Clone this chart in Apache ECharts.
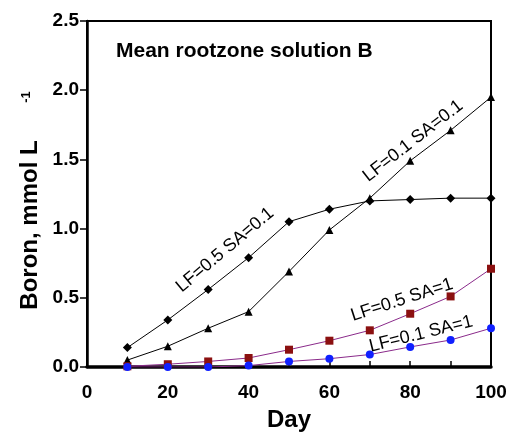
<!DOCTYPE html>
<html>
<head>
<meta charset="utf-8">
<script src="https://cdn.jsdelivr.net/npm/echarts@6/dist/echarts.min.js"></script>
<style>
html, body { margin: 0; padding: 0; background: #fff; }
#boron-line-1 { width: 507px; height: 432px; }
</style>
</head>
<body>
<div id="boron-line-1"></div>
<script>
var days = [10, 20, 30, 40, 50, 60, 70, 80, 90, 100];
var lf05sa01 = [0.14, 0.34, 0.56, 0.79, 1.05, 1.14, 1.20, 1.21, 1.22, 1.22];
var lf01sa01 = [0.05, 0.15, 0.28, 0.40, 0.69, 0.99, 1.22, 1.49, 1.71, 1.95];
var lf05sa1 = [0.005, 0.02, 0.04, 0.065, 0.125, 0.19, 0.265, 0.385, 0.51, 0.71];
var lf01sa1 = [0.0, 0.0, 0.0, 0.01, 0.04, 0.06, 0.09, 0.145, 0.195, 0.28];
var xTicks = [0, 20, 40, 60, 80, 100];
var yTicks = [0.0, 0.5, 1.0, 1.5, 2.0, 2.5];

//Boron in rootzone
(function(){
	var myChart = echarts.init(document.getElementById("boron-line-1"));
	var font = 'Liberation Sans, Arial, sans-serif';

	function pairs(ys) {
		return days.map(function(d, i){ return [d, ys[i]]; });
	}
	function label(text, x, y, deg) {
		return {
			type: 'text', x: x, y: y, rotation: deg * Math.PI / 180,
			style: { text: text, font: '18px ' + font, fill: '#000', align: 'center', verticalAlign: 'middle' }
		};
	}

	option = {
    animation: false,
    grid: {
        left: 87,
        right: 16,
        top: 21,
        bottom: 65,
        containLabel: false,
        outerBoundsMode: 'none',
        show: true,
        borderColor: '#000',
        borderWidth: 2
    },
    xAxis: {
        type: 'value',
        min: 0, max: 100, interval: 10,
        name: 'Day',
        nameLocation: 'middle',
        nameGap: 41,
        nameTextStyle: { fontFamily: font, fontWeight: 'bold', fontSize: 24, color: '#000' },
        axisLine: { show: true, onZero: false, lineStyle: { color: '#000', width: 3.5 } },
        axisTick: { show: true, inside: true, length: 6, lineStyle: { color: '#000', width: 1.5 } },
        axisLabel: {
            margin: 16, color: '#000', fontFamily: font, fontWeight: 'bold', fontSize: 19,
            formatter: function(v){ return xTicks.indexOf(v) >= 0 ? String(v) : ''; }
        },
        splitLine: { show: false }
    },
    yAxis: {
        type: 'value',
        min: 0, max: 2.5, interval: 0.5,
        axisLine: { show: true, onZero: false, lineStyle: { color: '#000', width: 2.5 } },
        axisTick: { show: true, inside: false, length: 7, lineStyle: { color: '#000', width: 1.5 } },
        axisLabel: {
            margin: 8, color: '#000', fontFamily: font, fontWeight: 'bold', fontSize: 19,
            formatter: function(v){ return yTicks[Math.round(v / 0.5)].toFixed(1); }
        },
        splitLine: { show: false }
    },
    graphic: [
        {
            type: 'text', left: 116, top: 41,
            style: { text: 'Mean rootzone solution B', font: 'bold 21px ' + font, fill: '#000' }
        },
        {
            type: 'text', x: 30, y: 225, rotation: Math.PI / 2,
            style: { text: 'Boron, mmol L', font: 'bold 24px ' + font, fill: '#000', align: 'center', verticalAlign: 'middle' }
        },
        {
            type: 'text', x: 26, y: 97, rotation: Math.PI / 2,
            style: { text: '-1', font: 'bold 13px ' + font, fill: '#000', align: 'center', verticalAlign: 'middle' }
        },
        label('LF=0.5 SA=0.1', 225, 250, 40),
        label('LF=0.1 SA=0.1', 413, 141, 38),
        label('LF=0.5 SA=1', 402, 300, 18),
        label('LF=0.1 SA=1', 421, 334, 14)
    ],
    series: [
        {
            name: 'LF=0.5 SA=0.1',
            type: 'line',
            data: pairs(lf05sa01),
            symbol: 'diamond', symbolSize: 9,
            itemStyle: { color: '#000' },
            lineStyle: { color: '#000', width: 1 }
        },
        {
            name: 'LF=0.1 SA=0.1',
            type: 'line',
            data: pairs(lf01sa01),
            symbol: 'triangle', symbolSize: 8,
            itemStyle: { color: '#000' },
            lineStyle: { color: '#000', width: 1 }
        },
        {
            name: 'LF=0.5 SA=1',
            type: 'line',
            data: pairs(lf05sa1),
            symbol: 'rect', symbolSize: 8,
            itemStyle: { color: '#8b1010' },
            lineStyle: { color: '#8a2a8a', width: 1 }
        },
        {
            name: 'LF=0.1 SA=1',
            type: 'line',
            data: pairs(lf01sa1),
            symbol: 'circle', symbolSize: 8,
            itemStyle: { color: '#1020ff' },
            lineStyle: { color: '#8a2a8a', width: 1 }
        }
    ]
};
	myChart.setOption(option);
})();
</script>
</body>
</html>
